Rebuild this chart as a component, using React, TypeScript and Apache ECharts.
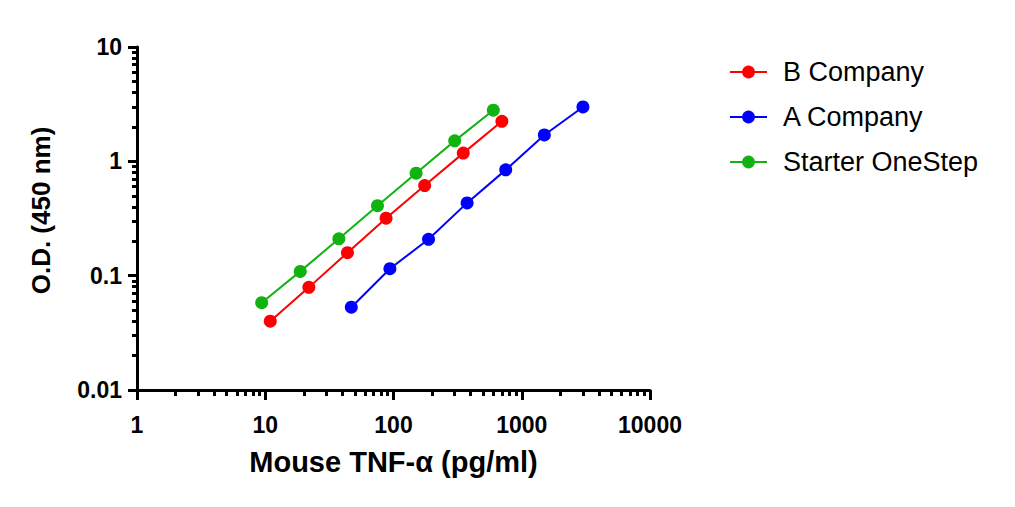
import React, { useEffect, useRef } from 'react'
import * as echarts from 'echarts'

// concentrations (pg/ml) and O.D. readings
const bConc = [10.94, 21.88, 43.75, 87.5, 175, 350, 700]
const bOD = [0.040, 0.079, 0.159, 0.318, 0.614, 1.18, 2.24]

const aConc = [46.88, 93.75, 187.5, 375, 750, 1500, 3000]
const aOD = [0.053, 0.115, 0.208, 0.433, 0.842, 1.70, 2.99]

const sConc = [9.38, 18.75, 37.5, 75, 150, 300, 600]
const sOD = [0.058, 0.109, 0.21, 0.409, 0.787, 1.51, 2.80]

const seriesNames = ['B Company', 'A Company', 'Starter OneStep']
const seriesColors = ['#ff0000', '#0000ff', '#11b311']

// minor ticks at 2..9 of each decade
const minorSteps = [2, 3, 4, 5, 6, 7, 8, 9]
const xDecades = [0, 1, 2, 3]
const yDecades = [-2, -1, 0]

const minorTicks = (decades: number[]) =>
  decades.flatMap(d => minorSteps.map(k => d + Math.log10(k)))

const FONT = '"Liberation Sans", Arial, sans-serif'

export default function App() {
  const ref = useRef<HTMLDivElement | null>(null)

  useEffect(() => {
    document.body.style.margin = '0'
    if (!ref.current) return
    const chart = echarts.init(ref.current, undefined, { renderer: 'svg' })

    const pairs = (xs: number[], ys: number[]) => xs.map((x, i) => [x, ys[i]])
    const datasets = [pairs(bConc, bOD), pairs(aConc, aOD), pairs(sConc, sOD)]

    const tickLabel = {
      color: '#000', fontFamily: FONT, fontWeight: 'bold' as const, fontSize: 23,
      formatter: (v: number) => String(v)
    }

    chart.setOption({
      animation: false,
      grid: { left: 137, top: 47, width: 513, height: 343 },
      legend: {
        left: 724,
        top: 52,
        orient: 'vertical',
        itemWidth: 37,
        itemHeight: 16,
        itemGap: 15,
        data: seriesNames,
        textStyle: {
          color: '#000', fontFamily: FONT, fontSize: 27, lineHeight: 30,
          padding: [0, 0, 0, 11]
        }
      },
      xAxis: [
        {
          type: 'log',
          logBase: 10,
          min: 1,
          max: 10000,
          name: 'Mouse TNF-α (pg/ml)',
          nameLocation: 'middle',
          nameGap: 57,
          nameTextStyle: { color: '#000', fontFamily: FONT, fontWeight: 'bold', fontSize: 29 },
          axisLine: { onZero: false, lineStyle: { color: '#000', width: 3 } },
          axisTick: { length: 10, lineStyle: { color: '#000', width: 3 } },
          axisLabel: { ...tickLabel, margin: 23 },
          splitLine: { show: false }
        },
        {
          type: 'value',
          min: 0,
          max: 4,
          position: 'bottom',
          axisLine: { show: false, onZero: false },
          axisLabel: { show: false },
          splitLine: { show: false },
          axisTick: { show: true, length: 6, customValues: minorTicks(xDecades), lineStyle: { color: '#000', width: 3 } }
        }
      ],
      yAxis: [
        {
          type: 'log',
          logBase: 10,
          min: 0.01,
          max: 10,
          name: 'O.D. (450 nm)',
          nameLocation: 'middle',
          nameRotate: 90,
          nameGap: 83,
          nameTextStyle: {
            color: '#000', fontFamily: FONT, fontWeight: 'bold', fontSize: 26,
            padding: [0, 0, 0, 16]
          },
          axisLine: { onZero: false, lineStyle: { color: '#000', width: 3 } },
          axisTick: { length: 9, lineStyle: { color: '#000', width: 3 } },
          axisLabel: { ...tickLabel, margin: 15 },
          splitLine: { show: false }
        },
        {
          type: 'value',
          min: -2,
          max: 1,
          position: 'left',
          axisLine: { show: false, onZero: false },
          axisLabel: { show: false },
          splitLine: { show: false },
          axisTick: { show: true, length: 5, customValues: minorTicks(yDecades), lineStyle: { color: '#000', width: 3 } }
        }
      ],
      series: seriesNames.map((name, i) => ({
        name,
        type: 'line',
        xAxisIndex: 0,
        yAxisIndex: 0,
        data: datasets[i],
        symbol: 'circle',
        symbolSize: 13,
        itemStyle: { color: seriesColors[i] },
        lineStyle: { color: seriesColors[i], width: 2 }
      }))
    })

    return () => { chart.dispose() }
  }, [])

  return <div ref={ref} style={{ width: 1015, height: 507 }} />
}
